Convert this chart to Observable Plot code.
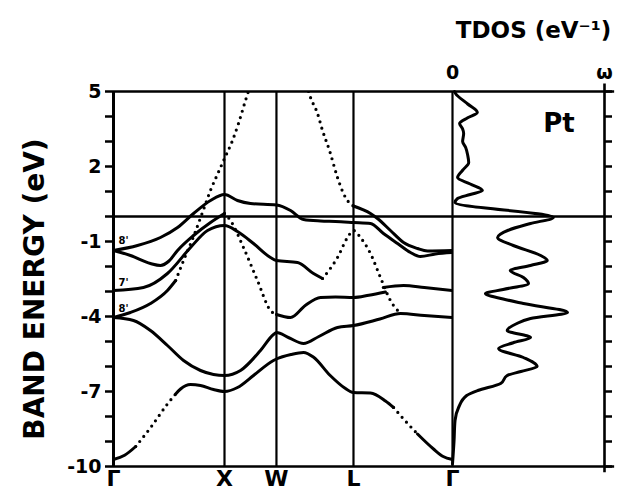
<!DOCTYPE html>
<html>
<head>
<meta charset="utf-8">
<script src="https://cdn.jsdelivr.net/npm/d3@7"></script>
<script src="https://cdn.jsdelivr.net/npm/@observablehq/plot@0.6"></script>
<style>
  body { margin: 0; background: #fff; }
  #chart { position: relative; width: 617px; height: 490px; background: #fff; }
  #chart svg { position: absolute; left: 0; top: 0; }
</style>
</head>
<body>
<div id="chart"></div>
<script>
// ---------- data ----------
// high-symmetry points along the path (k in units of the Γ–X length)
const symK = [0, 1, 1.468, 2.162, 3.054];
const symLabels = ["Γ", "X", "W", "L", "Γ"];

// energy axis (eV)
const yMinorTicks = d3.range(-10, 6);
const yTickLabels = [5, 2, -1, -4, -7, -10];
const yTitle = "BAND ENERGY (eV)";

// small level labels at Γ
const gammaLabels = ["8'", "7'", "8'"];
const gammaLabelE = [-0.96, -2.64, -3.68];

// bands: [k, E] pieces
const bandA1 = [[0,-9.72],[0.1,-9.55],[0.2,-9.2]];
const bandA2 = [[0.2,-9.2],[0.333,-8.45],[0.486,-7.5],[0.56,-7.1]];
const bandA3 = [[0.56,-7.1],[0.604,-6.9],[0.694,-6.72],[0.784,-6.76],[0.901,-6.92],[1,-7.0],[1.117,-6.84],[1.261,-6.36],[1.441,-5.76],[1.468,-5.7],[1.6,-5.52],[1.712,-5.44],[1.8,-5.62],[1.95,-6.35],[2.08,-6.85],[2.162,-7.04],[2.315,-7.06],[2.45,-7.38],[2.523,-7.64]];
const bandA4 = [[2.523,-7.64],[2.613,-8.1],[2.739,-8.7]];
const bandA5 = [[2.739,-8.7],[2.883,-9.3],[2.97,-9.6],[3.054,-9.72]];

const bandB = [[0,-4.04],[0.18,-4.16],[0.333,-4.56],[0.486,-5.16],[0.631,-5.76],[0.784,-6.16],[0.901,-6.32],[1,-6.36],[1.144,-6.16],[1.324,-5.36],[1.441,-4.72],[1.468,-4.64],[1.58,-4.85],[1.712,-5.08],[1.85,-4.8],[2.018,-4.44],[2.162,-4.36],[2.4,-4.1],[2.586,-3.88],[2.8,-3.96],[3.054,-4.04]];

const bandC1 = [[0,-4.04],[0.153,-3.84],[0.333,-3.48],[0.486,-2.96],[0.56,-2.56]];
const bandC2 = [[0.56,-2.56],[0.631,-1.76],[0.721,-0.8],[0.811,0.28],[0.874,1.05],[0.94,1.72],[1,2.32],[1.072,3.04],[1.126,3.72],[1.189,4.64],[1.215,5.0]];

const bandD1 = [[0,-2.96],[0.27,-2.84],[0.486,-2.28],[0.694,-1.24],[0.847,-0.56],[1,-0.36],[1.117,-0.6],[1.261,-1.08],[1.414,-1.64],[1.468,-1.76],[1.658,-1.84],[1.802,-2.28],[1.883,-2.48]];
const bandD2 = [[1.883,-2.48],[1.95,-2.1],[2.018,-1.64],[2.108,-0.84],[2.162,-0.56],[2.225,-0.84],[2.315,-1.48],[2.405,-2.44],[2.495,-3.36],[2.586,-3.88]];

const bandG1 = [[0,-1.36],[0.153,-1.56],[0.333,-1.88],[0.423,-1.96],[0.5,-1.78],[0.577,-1.36],[0.721,-0.76],[0.874,-0.24],[1,0.12]];
const bandG2 = [[1,0.12],[1.054,-0.16],[1.171,-1.24],[1.297,-2.56],[1.414,-3.76],[1.468,-3.92]];
const bandG3 = [[1.468,-3.92],[1.595,-4.04],[1.73,-3.55],[1.865,-3.24],[2.0,-3.22],[2.162,-3.24],[2.3,-3.15],[2.45,-3.02]];
const bandG4 = [[2.43,-2.84],[2.613,-2.76],[2.8,-2.84],[3.054,-2.96]];

const bandH = [[0,-1.36],[0.216,-1.16],[0.423,-0.84],[0.577,-0.44],[0.721,0.12],[0.874,0.64],[1,0.88],[1.117,0.64],[1.234,0.52],[1.468,0.46],[1.595,0.24],[1.712,-0.12],[1.865,-0.18],[2.0,-0.2],[2.162,-0.24],[2.315,-0.28],[2.432,-0.68],[2.559,-1.08],[2.676,-1.44],[2.765,-1.6],[2.9,-1.5],[3.054,-1.44]];

const bandI1 = [[1.757,5.0],[1.775,4.76],[1.838,4.12],[1.883,3.44],[1.946,2.64],[2.018,1.56],[2.072,0.92],[2.135,0.5],[2.162,0.42]];
const bandI2 = [[2.162,0.42],[2.315,0.12],[2.378,-0.08],[2.495,-0.56],[2.613,-1.04],[2.739,-1.28],[2.829,-1.38],[3.054,-1.36]];

// total density of states
const dosE = [5.0,4.92,4.5,4.16,3.95,3.72,3.5,3.32,3.0,2.76,2.45,2.16,1.85,1.56,1.3,1.04,0.88,0.72,0.56,-0.04,-0.28,-0.55,-0.84,-1.16,-1.56,-1.76,-1.96,-2.16,-2.44,-2.68,-2.92,-3.08,-3.3,-3.48,-3.84,-4.08,-4.3,-4.56,-4.84,-5.05,-5.28,-5.64,-6.0,-6.2,-6.36,-6.68,-6.96,-7.16,-7.64,-8.16,-9.0,-9.9];
const dosV = [0.04,0.06,0.3,0.49,0.3,0.14,0.2,0.22,0.2,0.26,0.3,0.32,0.2,0.1,0.35,0.59,0.35,0.1,0.05,1.99,1.54,1.1,0.89,1.2,1.74,1.87,1.54,1.14,1.4,1.5,1.0,0.65,1.0,1.4,2.27,1.54,1.25,1.08,1.54,1.2,0.91,1.4,1.67,1.35,1.08,0.95,0.5,0.28,0.12,0.05,0.03,0.0];
const dosTickValues = [0, 3];
const dosTickLabels = ["0", "ω"];
const tdosTitle = "TDOS (eV⁻¹)";
const elementLabel = "Pt";

// ---------- build tables ----------
const toRows = (pieces) => pieces.flatMap((p, id) => p.map(([k, e]) => ({k, e, id})));
const solidRows = toRows([bandA1, bandA3, bandA5, bandB, bandC1, bandD1, bandG1, bandG3, bandG4, bandH, bandI2]);
const dottedRows = toRows([bandA2, bandA4, bandC2, bandD2, bandG2, bandI1]);
const symRows = symK.map((k, i) => ({k, label: symLabels[i]}));
const gammaRows = gammaLabels.map((label, i) => ({label, e: gammaLabelE[i]}));
const dosRows = dosE.map((e, i) => ({e, v: dosV[i]})).sort((a, b) => a.e - b.e);

const FONT = "DejaVu Sans, sans-serif";
const common = {
  width: 617, height: 490, marginTop: 91, marginBottom: 24,
  style: {background: "transparent", overflow: "visible", fontFamily: FONT}
};

const bands = Plot.plot({
  ...common,
  marginLeft: 113, marginRight: 165,
  x: {domain: [0, 3.054], axis: null},
  y: {domain: [-10, 5]},
  marks: [
    Plot.ruleX(symK.slice(1), {stroke: "black", strokeWidth: 2.2}),
    Plot.ruleX([0], {stroke: "black", strokeWidth: 3}),
    Plot.ruleY([5, -10], {stroke: "black", strokeWidth: 2.6}),
    Plot.ruleY([0], {stroke: "black", strokeWidth: 2.6}),
    Plot.axisY({ticks: yMinorTicks, tickSize: 8, tickFormat: () => "", strokeWidth: 2.5, label: null}),
    Plot.axisY({ticks: yTickLabels, tickSize: 0, tickPadding: 12, tickFormat: d => String(d), fontSize: 19, fontWeight: "bold", label: null}),
    Plot.line(solidRows, {x: "k", y: "e", z: "id", stroke: "black", strokeWidth: 3, curve: "monotone-x", clip: true}),
    Plot.line(dottedRows, {x: "k", y: "e", z: "id", stroke: "black", strokeWidth: 3.2, strokeDasharray: "0 6.5", strokeLinecap: "round", curve: "monotone-x", clip: true}),
    Plot.text([yTitle], {frameAnchor: "left", y: () => -2.9, dx: -78, rotate: -90, textAnchor: "middle", text: d => d, fontSize: 28, fontWeight: "bold", fill: "black"}),
    Plot.text(symRows, {x: "k", text: "label", frameAnchor: "bottom", lineAnchor: "top", dy: 4, fontSize: 22, fontWeight: "bold", fill: "black"}),
    Plot.text(gammaRows, {x: () => 0.09, y: "e", text: "label", fontSize: 10, fontWeight: "bold", fill: "black"})
  ]
});

const dos = Plot.plot({
  ...common,
  marginLeft: 452, marginRight: 13,
  x: {domain: [0, 3], axis: null},
  y: {domain: [-10, 5], axis: null},
  marks: [
    Plot.ruleY([5, -10], {x1: 0, x2: 3.2, stroke: "black", strokeWidth: 2.6}),
    Plot.ruleY([0], {x1: 0, x2: 3, stroke: "black", strokeWidth: 2.6}),
    Plot.ruleX([3], {y1: -10.25, y2: 5.3, stroke: "black", strokeWidth: 2.6}),
    Plot.axisY({anchor: "right", ticks: yMinorTicks, tickSize: 7, tickFormat: () => "", strokeWidth: 2.5, label: null}),
    Plot.line(dosRows, {x: "v", y: "e", curve: "monotone-y", stroke: "black", strokeWidth: 3}),
    Plot.text([tdosTitle], {x: () => 1.6, frameAnchor: "top", dy: -70, text: d => d, fontSize: 23, fontWeight: "bold", fill: "black"}),
    Plot.text(dosTickValues, {x: d => d, frameAnchor: "top", dy: -26, text: (d, i) => dosTickLabels[i], fontSize: 19, fontWeight: "bold", fill: "black"}),
    Plot.text([elementLabel], {x: () => 2.1, y: () => 3.7, text: d => d, fontSize: 26, fontWeight: "bold", fill: "black"})
  ]
});

const chart = document.getElementById("chart");
chart.appendChild(bands);
chart.appendChild(dos);
</script>
</body>
</html>
